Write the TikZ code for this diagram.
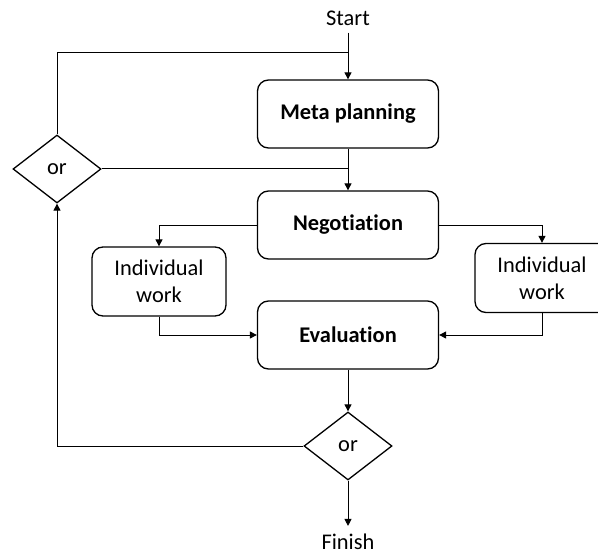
\documentclass[tikz,border=0pt]{standalone}
\usepackage{fontspec}
\setmainfont{Carlito}[RawFeature=-liga]
\usetikzlibrary{arrows.meta,shapes.geometric}
\tikzset{
  box/.style={draw, rounded corners=11bp, line width=1.3bp, minimum width=181bp, minimum height=68bp, inner sep=2bp, align=center, font=\fontsize{22.5}{27}\selectfont\bfseries},
  iwbox/.style={draw, rounded corners=11bp, line width=1.3bp, minimum width=134bp, minimum height=69bp, inner sep=2bp, align=center, font=\fontsize{22.5}{27}\selectfont},
  dec/.style={draw, diamond, line width=1.3bp, minimum width=88bp, minimum height=68bp, inner sep=0bp, font=\fontsize{22.5}{27}\selectfont},
  lbl/.style={inner sep=0bp, font=\fontsize{22.5}{27}\selectfont},
  conn/.style={line width=1bp},
  arr/.style={conn, -{Triangle[length=7bp,width=7bp]}}
}
\begin{document}
\begin{tikzpicture}[x=1bp,y=-1bp]
\useasboundingbox (0,0) rectangle (598,555);
\clip (0,0) rectangle (598,555);
\node[lbl] (start) at (348,18) {Start};
\node[box] (meta) at (348,114) {Meta planning};
\node[dec] (or1) at (57,169) {or};
\node[box] (nego) at (348,225) {Negotiation};
\node[iwbox] (iw1) at (159,281.5) {Individual\\work};
\node[iwbox] (iw2) at (542,278) {Individual\\work};
\node[box] (eval) at (348,335) {Evaluation};
\node[dec] (or2) at (348,446) {or};
\node[lbl] (finish) at (348,542) {Finish};
\coordinate (j1) at (348,53);
\coordinate (j2) at (348,169);
\draw[arr, shorten <=7bp] (start.south) -- (meta.north);
\draw[conn] (or1.north) |- (j1);
\draw[arr] (meta.south) -- (nego.north);
\draw[conn] (or1.east) -- (j2);
\draw[arr] (nego.west) -| (iw1.north);
\draw[arr] (nego.east) -| (iw2.north);
\draw[arr] (iw1.south) |- (eval.west);
\draw[arr] (iw2.south) |- (eval.east);
\draw[arr] (eval.south) -- (or2.north);
\draw[arr] (or2.west) -| (or1.south);
\draw[arr, shorten >=8bp] (or2.south) -- (finish.north);
\end{tikzpicture}
\end{document}
